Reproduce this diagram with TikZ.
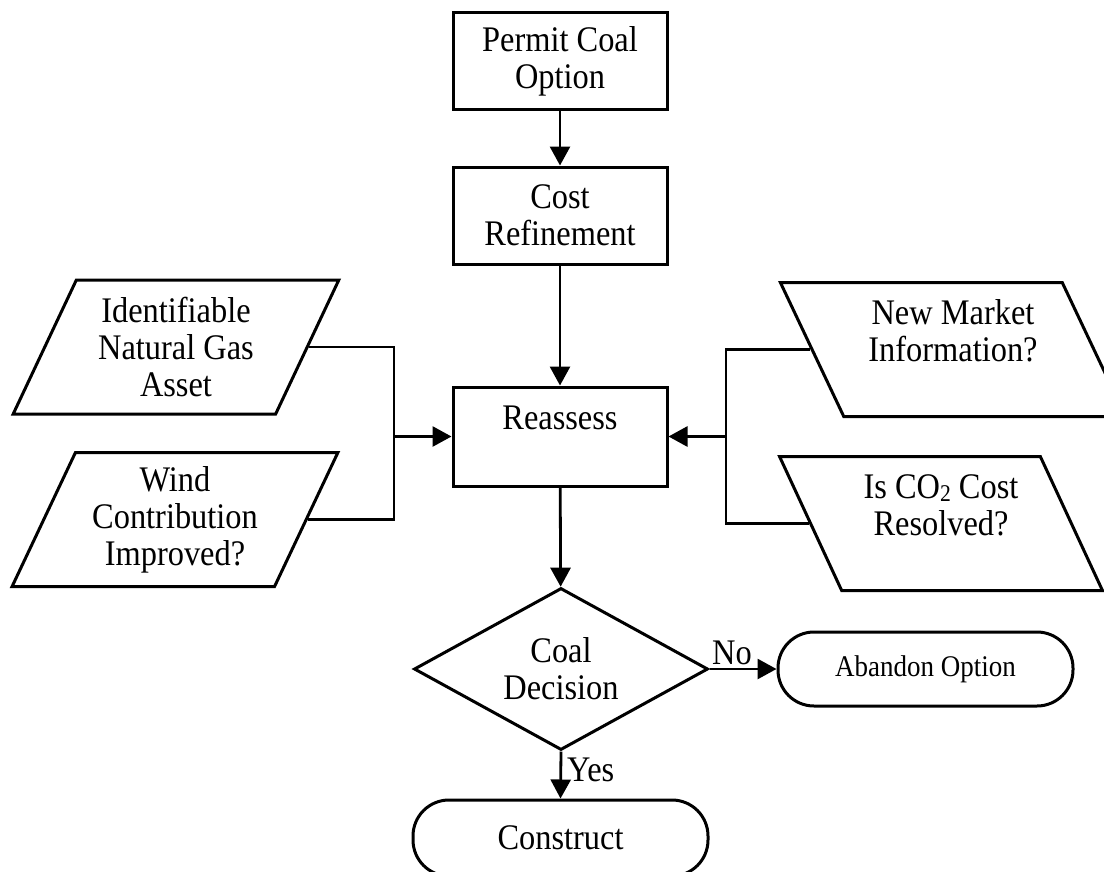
\documentclass[tikz,border=0pt]{standalone}
\usepackage{fontspec}
\setmainfont{Liberation Serif}[FakeStretch=0.9]
\usetikzlibrary{shapes.geometric,arrows.meta,positioning}
\tikzset{
  procbox/.style={
    draw,
    line width=3pt,
    minimum width=214pt,
    minimum height=97pt,
    align=center,
    inner sep=2pt
  },
  leftdata/.style={
    draw,
    line width=3pt,
    trapezium,
    trapezium stretches=true,
    trapezium left angle=64,
    trapezium right angle=116,
    minimum height=134pt,
    align=center,
    inner sep=2pt
  },
  rightdata/.style={
    leftdata,
    trapezium left angle=116,
    trapezium right angle=64
  },
}
\tikzset{
  choice/.style={
    draw,
    line width=3pt,
    shape=diamond,
    aspect=1.8,
    minimum width=294pt,
    minimum height=162pt,
    align=center,
    inner sep=1pt
  },
  endcap/.style={
    draw,
    line width=3pt,
    rounded corners=36pt,
    minimum width=295pt,
    align=center
  },
  flow/.style={
    line width=2.8pt,
    -{Triangle[length=19pt,width=20pt]}
  },
  joint/.style={
    line width=2.8pt
  },
  every picture/.style={
    font=\fontsize{36}{37}\selectfont
  }
}

\begin{document}
\begin{tikzpicture}[x=1pt,y=-1pt]
  \path[use as bounding box,fill=white] (0,0) rectangle (1104,871);
  % main column
  \node[procbox] (permit) at (560,61) {Permit Coal\\Option};
  \node[procbox] (cost) at (560,215.5) {Cost\\Refinement};
  \node[procbox,minimum height=99pt] (reassess) at (560,436.5) {Reassess\\~};
  \node[choice] (coal) at (561,669) {Coal\\Decision};
  \node[endcap,minimum height=76pt] (construct) at (560.5,838) {Construct};
  \node[endcap,minimum height=74pt,font=\fontsize{30}{36}\selectfont] (abandon) at (925.5,669) {Abandon Option};
  % inputs
  \node[leftdata,minimum width=326pt] (gas) at (176,347) {Identifiable\\Natural Gas\\Asset};
  \node[leftdata,minimum width=326pt] (wind) at (175,519.5) {Wind\\Contribution\\Improved?};
  \node[rightdata,minimum width=346pt] (market) at (953,349.5) {New Market\\Information?\\~};
  \node[rightdata,minimum width=324pt] (carbon) at (941,523.5) {Is CO\raisebox{-3pt}{\fontsize{24}{24}\selectfont 2} Cost\\Resolved?\\~};
  \coordinate (ljoin) at (394,436.5);
  \coordinate (rjoin) at (726,436.5);
  % connectors
  \draw[flow] (permit) -- (cost);
  \draw[flow] (cost) -- (reassess);
  \draw[flow] (reassess) -- (coal);
  \draw[joint] (gas.right side) -| (ljoin) |- (wind.right side);
  \draw[joint] (market.left side) -| (rjoin) |- (carbon.left side);
  \draw[flow] (ljoin) -- (reassess.west);
  \draw[flow] (rjoin) -- (reassess.east);
  \draw[flow] (coal.east) -- (abandon.west);
  \draw[flow] (coal.south) -- (construct.north);
  \node[anchor=west,inner sep=0pt] (no) at (712,653) {No};
  \node[anchor=west,inner sep=0pt] (yes) at (567,770) {Yes};
\end{tikzpicture}
\end{document}
